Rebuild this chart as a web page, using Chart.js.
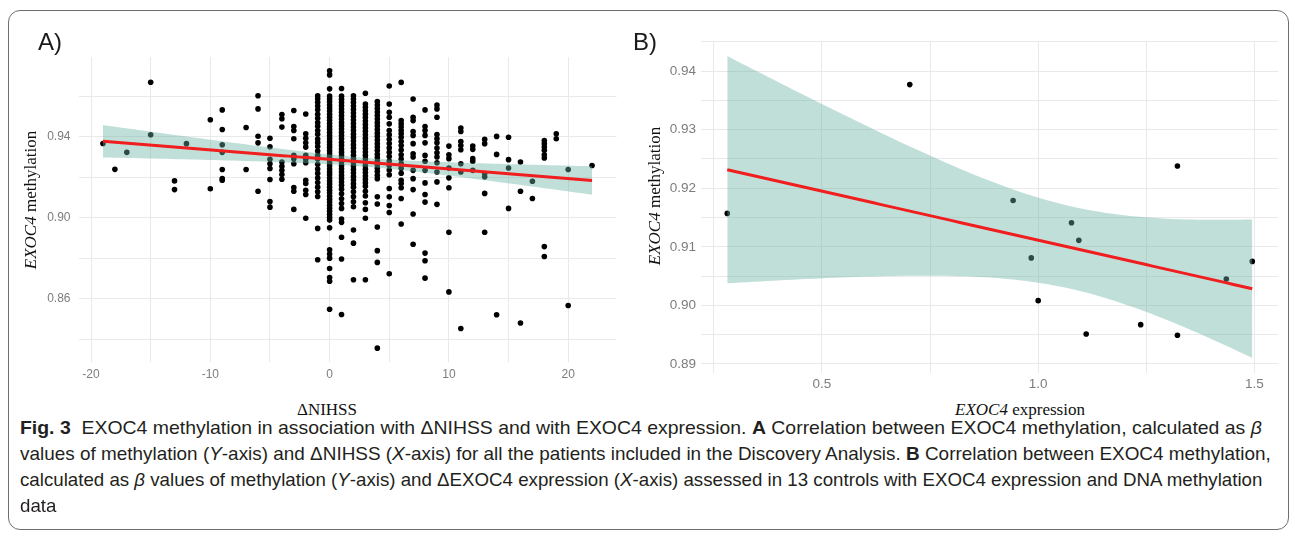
<!DOCTYPE html>
<html>
<head>
<meta charset="utf-8">
<script src="https://cdn.jsdelivr.net/npm/chart.js@4.4.1/dist/chart.umd.min.js"></script>
<style>
  body { margin: 0; width: 1295px; height: 538px; background: #fff; position: relative; overflow: hidden; font-family: 'Liberation Sans', Arial, sans-serif; }
  .frame { position: absolute; left: 8px; top: 10px; width: 1279px; height: 518px; border: 1.5px solid #6e6e6e; border-radius: 12px; }
  canvas { position: absolute; top: 0; }
  #chartA { left: 0; }
  #chartB { left: 640px; }
  .panel { position: absolute; font-size: 24px; color: #1a1a1a; line-height: 1; }
  .atitle { position: absolute; font-family: 'Liberation Serif', 'DejaVu Serif', serif; font-size: 17px; color: #111; white-space: nowrap; line-height: 1; }
  .ytitle { transform: translate(-50%, -50%) rotate(-90deg); }
  .xtitle { transform: translate(-50%, -50%); }
  .cap { position: absolute; left: 20px; font-family: 'Liberation Sans Narrow', 'Liberation Sans', sans-serif; font-size: 19px; color: #231f20; white-space: nowrap; line-height: 20px; transform-origin: left center; }
</style>
</head>
<body>
<div class="frame"></div>
<canvas id="chartA" width="640" height="395"></canvas>
<canvas id="chartB" width="655" height="395"></canvas>

<div class="panel" style="left:38px; top:30px;">A)</div>
<div class="panel" style="left:633px; top:30px;">B)</div>

<div class="atitle ytitle" style="left:30px; top:200px;"><i>EXOC4</i> methylation</div>
<div class="atitle xtitle" style="left:327px; top:409px;">ΔNIHSS</div>
<div class="atitle ytitle" style="left:654px; top:196px;"><i>EXOC4</i> methylation</div>
<div class="atitle xtitle" style="left:1020px; top:409px;"><i>EXOC4</i> expression</div>

<div class="cap" data-w="1242" style="top:418px;"><b>Fig. 3</b>&nbsp; EXOC4 methylation in association with ΔNIHSS and with EXOC4 expression. <b>A</b> Correlation between EXOC4 methylation, calculated as <i>β</i></div>
<div class="cap" data-w="1251" style="top:444px;">values of methylation (<i>Y</i>-axis) and ΔNIHSS (<i>X</i>-axis) for all the patients included in the Discovery Analysis. <b>B</b> Correlation between EXOC4 methylation,</div>
<div class="cap" data-w="1242" style="top:470px;">calculated as <i>β</i> values of methylation (<i>Y</i>-axis) and ΔEXOC4 expression (<i>X</i>-axis) assessed in 13 controls with EXOC4 expression and DNA methylation</div>
<div class="cap" style="top:496px;">data</div>

<script>
// panel A: delta NIHSS columns and the methylation values read in each column
const deltaNihss = [-19, -18, -17, -15, -13, -12, -10, -9, -7, -6, -5, -4, -3, -2, -1, 0, 1, 2, 3, 4, 5, 6, 7, 8, 9, 10, 11, 12, 13, 14, 15, 16, 17, 18, 19, 20, 22];
const methylationA = [
  [0.9367],
  [0.9239],
  [0.9323],
  [0.9670, 0.9410],
  [0.9182, 0.9139],
  [0.9366],
  [0.9484, 0.9143],
  [0.9533, 0.9436, 0.9361, 0.9323, 0.9238, 0.9193, 0.9185],
  [0.9446, 0.9238],
  [0.9603, 0.9538, 0.9403, 0.9370, 0.9131],
  [0.9393, 0.9351, 0.9289, 0.9267, 0.9243, 0.9189, 0.9080, 0.9052],
  [0.9510, 0.9489, 0.9448, 0.9275, 0.9254, 0.9234, 0.9213, 0.9190],
  [0.9530, 0.9451, 0.9431, 0.9390, 0.9308, 0.9292, 0.9267, 0.9149, 0.9131, 0.9041],
  [0.9513, 0.9415, 0.9393, 0.9370, 0.9349, 0.9308, 0.9289, 0.9272, 0.9185, 0.9169, 0.9136, 0.9115, 0.8997],
  [0.9603, 0.9588, 0.9571, 0.9552, 0.9534, 0.9511, 0.9492, 0.9470, 0.9452, 0.9431, 0.9412, 0.9389, 0.9371, 0.9352,
   0.9330, 0.9308, 0.9290, 0.9264, 0.9241, 0.9219, 0.9196, 0.9174, 0.9151, 0.9128, 0.9105, 0.8947, 0.8792],
  [0.9726, 0.9706, 0.9637, 0.9602, 0.9588, 0.9573, 0.9557, 0.9542, 0.9528, 0.9511, 0.9497, 0.9482, 0.9466, 0.9451,
   0.9437, 0.9421, 0.9406, 0.9392, 0.9376, 0.9361, 0.9347, 0.9331, 0.9316, 0.9302, 0.9286, 0.9271, 0.9257, 0.9241,
   0.9226, 0.9212, 0.9196, 0.9181, 0.9167, 0.9151, 0.9136, 0.9122, 0.9106, 0.9091, 0.9077, 0.9061, 0.9046, 0.9032,
   0.9016, 0.9001, 0.8988, 0.8950, 0.8841, 0.8820, 0.8800, 0.8749, 0.8704, 0.8686, 0.8547],
  [0.9639, 0.9601, 0.9586, 0.9570, 0.9553, 0.9537, 0.9521, 0.9504, 0.9488, 0.9471, 0.9455, 0.9439, 0.9422, 0.9406,
   0.9390, 0.9373, 0.9357, 0.9340, 0.9324, 0.9308, 0.9291, 0.9275, 0.9258, 0.9242, 0.9226, 0.9209, 0.9193, 0.9176,
   0.9160, 0.9141, 0.9118, 0.9094, 0.9070, 0.9046, 0.8993, 0.8977, 0.8903, 0.8796, 0.8521],
  [0.9603, 0.9587, 0.9570, 0.9552, 0.9535, 0.9518, 0.9500, 0.9483, 0.9466, 0.9448, 0.9431, 0.9413, 0.9396, 0.9379,
   0.9361, 0.9344, 0.9326, 0.9309, 0.9291, 0.9273, 0.9256, 0.9238, 0.9221, 0.9203, 0.9186, 0.9168, 0.9151, 0.9128,
   0.9104, 0.9079, 0.9054, 0.8939, 0.8874, 0.8693],
  [0.9615, 0.9562, 0.9546, 0.9529, 0.9512, 0.9495, 0.9478, 0.9461, 0.9444, 0.9427, 0.9410, 0.9393, 0.9376, 0.9359,
   0.9342, 0.9325, 0.9308, 0.9291, 0.9274, 0.9257, 0.9240, 0.9223, 0.9206, 0.9189, 0.9172, 0.9155, 0.9131, 0.9107,
   0.9074, 0.9041, 0.8997, 0.8693],
  [0.9574, 0.9557, 0.9540, 0.9522, 0.9505, 0.9488, 0.9470, 0.9453, 0.9436, 0.9418, 0.9401, 0.9384, 0.9366, 0.9349,
   0.9332, 0.9314, 0.9297, 0.9280, 0.9262, 0.9245, 0.9228, 0.9210, 0.9193, 0.9103, 0.9068, 0.8954, 0.8837, 0.8779, 0.8355],
  [0.9651, 0.9562, 0.9521, 0.9497, 0.9464, 0.9431, 0.9410, 0.9388, 0.9367, 0.9345, 0.9323, 0.9302, 0.9280, 0.9258,
   0.9236, 0.9212, 0.9144, 0.9103, 0.9060, 0.9026, 0.8723],
  [0.9669, 0.9480, 0.9464, 0.9448, 0.9431, 0.9415, 0.9398, 0.9377, 0.9357, 0.9335, 0.9311, 0.9290, 0.9268, 0.9245,
   0.9220, 0.9185, 0.9169, 0.9148, 0.9095, 0.8969],
  [0.9587, 0.9497, 0.9480, 0.9426, 0.9407, 0.9366, 0.9316, 0.9300, 0.9234, 0.9193, 0.9139, 0.9018, 0.8869],
  [0.9533, 0.9451, 0.9431, 0.9407, 0.9370, 0.9308, 0.9279, 0.9234, 0.9172, 0.9115, 0.9077, 0.8825, 0.8787, 0.8701],
  [0.9557, 0.9538, 0.9497, 0.9411, 0.9390, 0.9370, 0.9344, 0.9321, 0.9300, 0.9272, 0.9226, 0.9177, 0.9066],
  [0.9354, 0.9311, 0.9292, 0.9246, 0.9197, 0.9148, 0.8928, 0.8633],
  [0.9443, 0.9426, 0.9377, 0.9357, 0.9336, 0.9267, 0.9226, 0.8452],
  [0.9354, 0.9338, 0.9292, 0.9279, 0.9234],
  [0.9387, 0.9366, 0.9218, 0.9202, 0.9120, 0.8928],
  [0.9402, 0.9313, 0.8520],
  [0.9398, 0.9287, 0.9246, 0.9046],
  [0.9275, 0.9131, 0.8479],
  [0.9180, 0.9095],
  [0.9382, 0.9366, 0.9349, 0.9333, 0.9311, 0.9295, 0.8857, 0.8808],
  [0.9415, 0.9390],
  [0.9238, 0.8566],
  [0.9258]
];

// panel B: 13 controls
const expressionB = [0.281, 0.703, 0.942, 0.984, 1.000, 1.077, 1.094, 1.111, 1.237, 1.322, 1.322, 1.435, 1.495];
const methylationB = [0.9157, 0.9377, 0.9179, 0.9081, 0.9008, 0.9141, 0.9111, 0.8951, 0.8967, 0.9238, 0.8949, 0.9045, 0.9075];

// grid lines and tick labels
const xGridA = [-20, -15, -10, -5, 0, 5, 10, 15, 20];
const xLabelsA = [-20, -10, 0, 10, 20];
const yGridA = [0.84, 0.86, 0.88, 0.90, 0.92, 0.94, 0.96];
const yLabelsA = [0.86, 0.90, 0.94];
const xGridB = [0.25, 0.5, 0.75, 1.0, 1.25, 1.5];
const xLabelsB = [0.5, 1.0, 1.5];
const yGridB = [0.89, 0.895, 0.90, 0.905, 0.91, 0.915, 0.92, 0.925, 0.93, 0.935, 0.94, 0.945];
const yLabelsB = [0.89, 0.90, 0.91, 0.92, 0.93, 0.94];

// t quantile (0.975) via Cornish-Fisher expansion
function tQuantile(df) {
  const z = 1.959964;
  const z3 = z ** 3, z5 = z ** 5, z7 = z ** 7;
  return z + (z3 + z) / (4 * df) + (5 * z5 + 16 * z3 + 3 * z) / (96 * df * df) +
    (3 * z7 + 19 * z5 + 17 * z3 - 15 * z) / (384 * df ** 3);
}

// linear model with 95% confidence band, like geom_smooth(method = "lm")
function fitLm(points) {
  const n = points.length;
  const mx = points.reduce((a, p) => a + p.x, 0) / n;
  const my = points.reduce((a, p) => a + p.y, 0) / n;
  let sxx = 0, sxy = 0;
  points.forEach((p) => { sxx += (p.x - mx) ** 2; sxy += (p.x - mx) * (p.y - my); });
  const slope = sxy / sxx;
  const icpt = my - slope * mx;
  let sse = 0;
  points.forEach((p) => { sse += (p.y - icpt - slope * p.x) ** 2; });
  const se = Math.sqrt(sse / (n - 2));
  const t = tQuantile(n - 2);
  const xmin = Math.min(...points.map((p) => p.x));
  const xmax = Math.max(...points.map((p) => p.x));
  const line = [], upper = [], lower = [];
  for (let i = 0; i < 80; i++) {
    const x = xmin + (xmax - xmin) * i / 79;
    const yh = icpt + slope * x;
    const hw = t * se * Math.sqrt(1 / n + (x - mx) ** 2 / sxx);
    line.push({ x, y: yh });
    upper.push({ x, y: yh + hw });
    lower.push({ x, y: yh - hw });
  }
  return { line, upper, lower };
}

// ggplot-like 5% expansion of the range
function expand(vals) {
  const lo = Math.min(...vals), hi = Math.max(...vals);
  const pad = (hi - lo) * 0.05;
  return [lo - pad, hi + pad];
}

const isLabel = (list, v) => list.some((l) => Math.abs(l - v) < 1e-9);

const pointsA = [];
deltaNihss.forEach((d, i) => methylationA[i].forEach((m) => pointsA.push({ x: d, y: m })));
const pointsB = expressionB.map((e, i) => ({ x: e, y: methylationB[i] }));

const fitA = fitLm(pointsA);
const fitB = fitLm(pointsB);

const bandFill = "rgba(105, 179, 162, 0.42)";
const lineRed = "#f01e1e";
const gridCol = "#e9e9e9";

function buildDatasets(points, fit, radius) {
  return [
    { type: "line", data: fit.line, borderColor: lineRed, borderWidth: 3, pointRadius: 0, fill: false, order: 0 },
    { type: "line", data: fit.upper, borderColor: "rgba(0,0,0,0)", pointRadius: 0, fill: "+1", backgroundColor: bandFill, order: 1 },
    { type: "line", data: fit.lower, borderColor: "rgba(0,0,0,0)", pointRadius: 0, fill: false, order: 2 },
    { type: "scatter", data: points, pointRadius: radius, pointBackgroundColor: "#000", pointBorderWidth: 0, order: 3 }
  ];
}

const xRangeA = expand(deltaNihss);
const yRangeA = expand(pointsA.map((p) => p.y).concat(fitA.upper.map((p) => p.y), fitA.lower.map((p) => p.y)));
const xRangeB = expand(expressionB);
const yRangeB = expand(methylationB.concat(fitB.upper.map((p) => p.y), fitB.lower.map((p) => p.y)));

const tickGrey = "#7d7d7d";

// panel A chart
const chartA = new Chart("chartA", {
  type: "scatter",
  data: { datasets: buildDatasets(pointsA, fitA, 2.8) },
  options: {
    responsive: false,
    animation: false,
    layout: { padding: { left: 0, right: 23.5, top: 57, bottom: 0 } },
    plugins: { legend: { display: false }, tooltip: { enabled: false } },
    scales: {
      x: {
        type: "linear",
        min: xRangeA[0],
        max: xRangeA[1],
        afterBuildTicks: (s) => { s.ticks = xGridA.map((v) => ({ value: v })); },
        afterFit: (s) => { s.height = 33; },
        ticks: {
          autoSkip: false, maxRotation: 0, padding: 5, color: tickGrey,
          font: { family: "'Liberation Sans', Arial, sans-serif", size: 12 },
          callback: (v) => (isLabel(xLabelsA, v) ? String(v) : "")
        },
        grid: { color: gridCol, lineWidth: 1, drawTicks: false },
        border: { display: false }
      },
      y: {
        type: "linear",
        min: yRangeA[0],
        max: yRangeA[1],
        afterBuildTicks: (s) => { s.ticks = yGridA.map((v) => ({ value: v })); },
        afterFit: (s) => { s.width = 78.5; },
        ticks: {
          autoSkip: false, padding: 8, color: tickGrey,
          font: { family: "'Liberation Sans', Arial, sans-serif", size: 12 },
          callback: (v) => (isLabel(yLabelsA, v) ? v.toFixed(2) : "")
        },
        grid: { color: gridCol, lineWidth: 1, drawTicks: false },
        border: { display: false }
      }
    }
  }
});

// panel B chart
const chartB = new Chart("chartB", {
  type: "scatter",
  data: { datasets: buildDatasets(pointsB, fitB, 2.8) },
  options: {
    responsive: false,
    animation: false,
    layout: { padding: { left: 0, right: 16.5, top: 41, bottom: 0 } },
    plugins: { legend: { display: false }, tooltip: { enabled: false } },
    scales: {
      x: {
        type: "linear",
        min: xRangeB[0],
        max: xRangeB[1],
        afterBuildTicks: (s) => { s.ticks = xGridB.map((v) => ({ value: v })); },
        afterFit: (s) => { s.height = 22; },
        ticks: {
          autoSkip: false, maxRotation: 0, padding: 3, color: tickGrey,
          font: { family: "'Liberation Sans', Arial, sans-serif", size: 13.5 },
          callback: (v) => (isLabel(xLabelsB, v) ? v.toFixed(1) : "")
        },
        grid: { color: gridCol, lineWidth: 1, drawTicks: false },
        border: { display: false }
      },
      y: {
        type: "linear",
        min: yRangeB[0],
        max: yRangeB[1],
        afterBuildTicks: (s) => { s.ticks = yGridB.map((v) => ({ value: v })); },
        afterFit: (s) => { s.width = 61; },
        ticks: {
          autoSkip: false, padding: 5, color: tickGrey,
          font: { family: "'Liberation Sans', Arial, sans-serif", size: 13.5 },
          callback: (v) => (isLabel(yLabelsB, v) ? v.toFixed(2) : "")
        },
        grid: { color: gridCol, lineWidth: 1, drawTicks: false },
        border: { display: false }
      }
    }
  }
});

// squeeze caption lines to the widths they have in the figure
function fitCaption() {
  let last = 1;
  document.querySelectorAll(".cap").forEach((el) => {
    const target = Number(el.dataset.w || 0);
    if (target) last = target / el.scrollWidth;
    el.style.transform = "scaleX(" + last + ")";
  });
}
fitCaption();
</script>
</body>
</html>
